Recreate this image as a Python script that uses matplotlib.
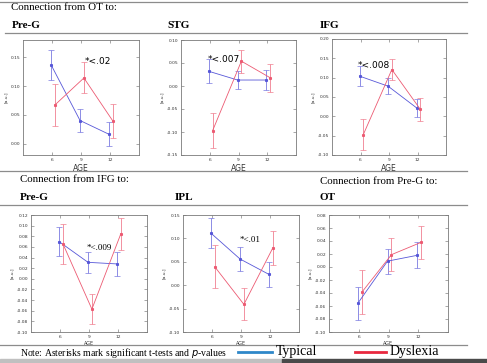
import matplotlib
matplotlib.use("Agg")
import matplotlib.pyplot as plt
from matplotlib.lines import Line2D
from matplotlib.patches import Rectangle

W, H = 487, 363

# ages on the x axis
ages = [6, 9, 12]
age_labels = ['6', '9', '12']

# Connection from OT to Pre-G
ot_preg_typ = [0.137, 0.040, 0.016]
ot_preg_typ_err = [0.026, 0.020, 0.021]
ot_preg_dys = [0.067, 0.114, 0.039]
ot_preg_dys_err = [0.036, 0.027, 0.029]

# Connection from OT to STG
ot_stg_typ = [0.032, 0.013, 0.013]
ot_stg_typ_err = [0.026, 0.020, 0.021]
ot_stg_dys = [-0.097, 0.054, 0.018]
ot_stg_dys_err = [0.038, 0.025, 0.030]

# Connection from OT to IFG
ot_ifg_typ = [0.104, 0.078, 0.022]
ot_ifg_typ_err = [0.026, 0.021, 0.024]
ot_ifg_dys = [-0.047, 0.121, 0.018]
ot_ifg_dys_err = [0.039, 0.028, 0.030]

# Connection from IFG to Pre-G
ifg_preg_typ = [0.070, 0.031, 0.028]
ifg_preg_typ_err = [0.027, 0.020, 0.022]
ifg_preg_dys = [0.066, -0.057, 0.085]
ifg_preg_dys_err = [0.038, 0.028, 0.030]

# Connection from IFG to IPL
ifg_ipl_typ = [0.111, 0.056, 0.023]
ifg_ipl_typ_err = [0.032, 0.025, 0.027]
ifg_ipl_dys = [0.039, -0.041, 0.080]
ifg_ipl_dys_err = [0.046, 0.034, 0.036]

# Connection from Pre-G to OT
preg_ot_typ = [-0.056, 0.009, 0.018]
preg_ot_typ_err = [0.025, 0.019, 0.020]
preg_ot_dys = [-0.039, 0.019, 0.038]
preg_ot_dys_err = [0.034, 0.025, 0.025]

# significance notes: (text, age, value)
ot_preg_note = ('*<.02', 9.4, 0.142)
ot_stg_note = ('*<.007', 5.75, 0.058)
ot_ifg_note = ('*<.008', 5.75, 0.131)
ifg_preg_note = ('*<.009', 8.7, 0.058)
ifg_ipl_note = ('*<.01', 8.9, 0.097)

BLUE = '#5757d8'
RED = '#ec5a72'
serif = 'Liberation Serif'


def px(x0, y0, x1, y1):
    return [x0 / W, 1 - y1 / H, (x1 - x0) / W, (y1 - y0) / H]


def hline(fig, x0, x1, y, color='#8c8c8c', lw=0.9):
    fig.add_artist(Line2D([x0 / W, x1 / W], [1 - y / H, 1 - y / H],
                          color=color, lw=lw))


def panel(fig, rect, typ, typ_err, dys, dys_err, ylim, yticks, fmt,
          note=None, note_font='DejaVu Sans', small=False):
    ax = fig.add_axes(px(*rect))
    xt = [a - 0.1 for a in ages]
    xd = [a + 0.3 for a in ages]
    ax.errorbar(xt, typ, yerr=typ_err, color=BLUE, ecolor='#7a7ae0',
                lw=0.6, elinewidth=0.6, capsize=2, capthick=0.5,
                marker='s', ms=1.2)
    ax.errorbar(xd, dys, yerr=dys_err, color=RED, ecolor='#f07f90',
                lw=0.6, elinewidth=0.6, capsize=2, capthick=0.5,
                marker='s', ms=1.2)
    ax.set_xlim(3, 15)
    ax.set_ylim(*ylim)
    ax.set_xticks(ages)
    ax.set_xticklabels(age_labels)
    ax.set_yticks(yticks)
    ax.set_yticklabels([fmt.format(v) for v in yticks])
    ax.tick_params(direction='in', length=2, width=0.4, colors='#666',
                   labelsize=3.2, labelcolor='#333', pad=2,
                   top=True, right=True)
    for s in ax.spines.values():
        s.set_color('#7a7a7a')
        s.set_linewidth(0.6)
    ax.set_xlabel('AGE', fontsize=3.5 if small else 5.5, labelpad=1.5,
                  color='#333')
    ax.set_ylabel('[a.u.]', fontsize=3.2, labelpad=2, color='#333')
    if note is not None:
        ax.text(note[1], note[2], note[0], fontsize=6.5, family=note_font,
                color='black', va='center', ha='left')
    return ax


fig = plt.figure(figsize=(W / 100, H / 100), dpi=100)

# rules and headings
hline(fig, 0, 467, 1.5)
hline(fig, 5, 467, 32.5)
hline(fig, 0, 467, 171)
hline(fig, 0, 467, 205)
hline(fig, 0, 467, 344.5)
fig.add_artist(Rectangle((0, 0), 282 / W, 4 / H, color='#c0c0c0',
                         transform=fig.transFigure))
fig.add_artist(Rectangle((282 / W, 0), 1 - 282 / W, 4 / H, color='#4a4a4a',
                         transform=fig.transFigure))

def label(x, y, s, size, weight='normal', **kw):
    fig.text(x / W, 1 - y / H, s, fontsize=size, family=serif,
             weight=weight, va='center', ha='left', **kw)

label(11, 8, 'Connection from OT to:', 7.8)
label(12, 26, 'Pre-G', 8, 'bold')
label(167, 26, 'STG', 8, 'bold')
label(320, 26, 'IFG', 8, 'bold')
label(20, 180, 'Connection from IFG to:', 7.8)
label(320, 181, 'Connection from Pre-G to:', 7.8)
label(20, 198, 'Pre-G', 8, 'bold')
label(175, 198, 'IPL', 8, 'bold')
label(320, 198, 'OT', 8, 'bold')

# top row
panel(fig, (23, 40, 139, 155), ot_preg_typ, ot_preg_typ_err, ot_preg_dys,
      ot_preg_dys_err, (-0.02, 0.18), [0.0, 0.05, 0.10, 0.15], '{:.2f}',
      ot_preg_note)
panel(fig, (181, 40, 296, 155), ot_stg_typ, ot_stg_typ_err, ot_stg_dys,
      ot_stg_dys_err, (-0.15, 0.10), [-0.15, -0.10, -0.05, 0.0, 0.05, 0.10],
      '{:.2f}', ot_stg_note)
panel(fig, (332, 39, 446, 155), ot_ifg_typ, ot_ifg_typ_err, ot_ifg_dys,
      ot_ifg_dys_err, (-0.10, 0.20),
      [-0.10, -0.05, 0.0, 0.05, 0.10, 0.15, 0.20], '{:.2f}', ot_ifg_note)

# bottom row
panel(fig, (31, 215, 147, 332), ifg_preg_typ, ifg_preg_typ_err, ifg_preg_dys,
      ifg_preg_dys_err, (-0.10, 0.12),
      [-0.10, -0.08, -0.06, -0.04, -0.02, 0.0, 0.02, 0.04, 0.06, 0.08, 0.10,
       0.12], '{:.2f}', ifg_preg_note, serif, small=True)
panel(fig, (183, 215, 299, 332), ifg_ipl_typ, ifg_ipl_typ_err, ifg_ipl_dys,
      ifg_ipl_dys_err, (-0.10, 0.15),
      [-0.10, -0.05, 0.0, 0.05, 0.10, 0.15], '{:.2f}', ifg_ipl_note, serif,
      small=True)
panel(fig, (329, 215, 448, 332), preg_ot_typ, preg_ot_typ_err, preg_ot_dys,
      preg_ot_dys_err, (-0.10, 0.08),
      [-0.10, -0.08, -0.06, -0.04, -0.02, 0.0, 0.02, 0.04, 0.06, 0.08],
      '{:.2f}', small=True)

# note and legend
label(20, 352.5, 'Note: Asterisks mark significant t-tests and $\\it{p}$-values', 7)
fig.add_artist(Line2D([238 / W, 272 / W], [1 - 352 / H] * 2, color='#2f87c9', lw=2))
label(276, 352, 'Typical', 10)
fig.add_artist(Line2D([355 / W, 386 / W], [1 - 352 / H] * 2, color='#e8283f', lw=2))
label(390, 352, 'Dyslexia', 10)

fig.savefig('out.png', dpi=100)
